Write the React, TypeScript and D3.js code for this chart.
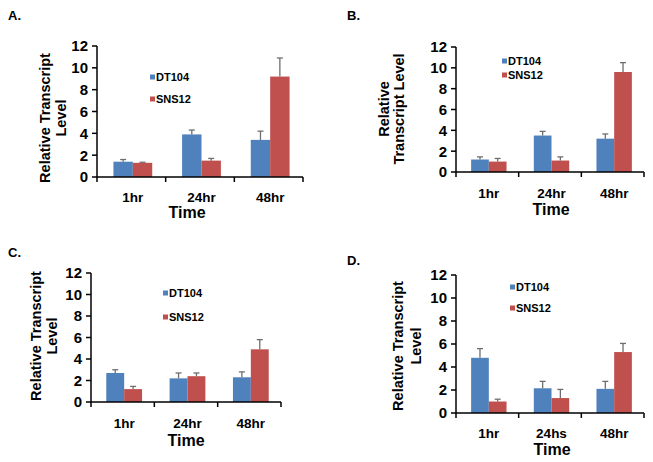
import React from "react";
import * as d3 from "d3";

const series = ["DT104", "SNS12"];
const yTicks = [0, 2, 4, 6, 8, 10, 12];
const catsABC = ["1hr", "24hr", "48hr"];
const catsD = ["1hr", "24hs", "48hr"];

const aDT = [1.4, 3.9, 3.4];
const aDTerr = [0.2, 0.4, 0.8];
const aSN = [1.3, 1.5, 9.2];
const aSNerr = [0.05, 0.2, 1.7];

const bDT = [1.2, 3.5, 3.2];
const bDTerr = [0.25, 0.4, 0.45];
const bSN = [1.0, 1.1, 9.6];
const bSNerr = [0.3, 0.35, 0.9];

const cDT = [2.7, 2.2, 2.3];
const cDTerr = [0.3, 0.5, 0.5];
const cSN = [1.2, 2.4, 4.9];
const cSNerr = [0.25, 0.3, 0.9];

const dDT = [4.8, 2.15, 2.1];
const dDTerr = [0.8, 0.6, 0.65];
const dSN = [1.0, 1.3, 5.3];
const dSNerr = [0.2, 0.75, 0.75];

const COLORS = ["#4F81BD", "#C0504D"];
const FONT = "'Liberation Sans', Arial, sans-serif";

type Layout = {
  letter: string;
  lx: number; ly: number;
  x0: number; x1: number; yTop: number; yBot: number;
  lab: string[]; labX: number[]; labY: number;
  legX: number; legY: number[];
  tickY: number; timeX: number; timeY: number;
};

const panels: { cats: string[]; vals: number[][]; errs: number[][]; L: Layout }[] = [
  {
    cats: catsABC, vals: [aDT, aSN], errs: [aDTerr, aSNerr],
    L: { letter: "A.", lx: 8, ly: 20, x0: 97, x1: 303, yTop: 46, yBot: 177,
      lab: ["Relative Transcript", "Level"], labX: [50, 66], labY: 118,
      legX: 150, legY: [77, 99], tickY: 202, timeX: 187, timeY: 218 },
  },
  {
    cats: catsABC, vals: [bDT, bSN], errs: [bDTerr, bSNerr],
    L: { letter: "B.", lx: 347, ly: 20, x0: 456, x1: 644, yTop: 47, yBot: 172,
      lab: ["Relative", "Transcript Level"], labX: [389, 404], labY: 109,
      legX: 502, legY: [61, 75], tickY: 198, timeX: 551, timeY: 215 },
  },
  {
    cats: catsABC, vals: [cDT, cSN], errs: [cDTerr, cSNerr],
    L: { letter: "C.", lx: 8, ly: 257, x0: 91, x1: 281, yTop: 273, yBot: 402,
      lab: ["Relative Transcript", "Level"], labX: [41, 57], labY: 336,
      legX: 163, legY: [293, 317], tickY: 428, timeX: 186, timeY: 446 },
  },
  {
    cats: catsD, vals: [dDT, dSN], errs: [dDTerr, dSNerr],
    L: { letter: "D.", lx: 347, ly: 265, x0: 456, x1: 644, yTop: 275, yBot: 413,
      lab: ["Relative Transcript", "Level"], labX: [403, 421], labY: 346,
      legX: 510, legY: [287, 308], tickY: 438, timeX: 552, timeY: 455 },
  },
];

function Panel({ cats, vals, errs, L }: { cats: string[]; vals: number[][]; errs: number[][]; L: Layout }) {
  const x = d3.scaleBand<string>().domain(cats).range([L.x0, L.x1]).padding(0);
  const y = d3.scaleLinear().domain([0, 12]).range([L.yBot, L.yTop]);
  const groupW = x.bandwidth() * 0.565;
  const inner = d3.scaleBand<string>().domain(series).range([0, groupW]).padding(0);
  const bounds = [...cats.map((c) => x(c)!), L.x1];
  return (
    <g fontFamily={FONT} fontWeight="bold">
      <text x={L.lx} y={L.ly} fontSize={13}>{L.letter}</text>
      {series.map((s, si) =>
        cats.map((c, ci) => {
          const gx = x(c)! + (x.bandwidth() - groupW) / 2 + 1.5;
          const bx = gx + inner(s)!;
          const v = vals[si][ci];
          const e = errs[si][ci];
          const cx = bx + inner.bandwidth() / 2;
          return (
            <g key={s + c}>
              <rect x={bx} y={y(v)} width={inner.bandwidth()} height={y(0) - y(v)} fill={COLORS[si]} />
              <line x1={cx} x2={cx} y1={y(v)} y2={y(v + e)} stroke="#6e6e6e" strokeWidth={1.3} />
              <line x1={cx - 3} x2={cx + 3} y1={y(v + e)} y2={y(v + e)} stroke="#6e6e6e" strokeWidth={1.3} />
            </g>
          );
        })
      )}
      <line x1={L.x0} x2={L.x0} y1={y(12)} y2={y(0)} stroke="#000" strokeWidth={1.5} />
      {yTicks.map((t) => (
        <g key={t}>
          <line x1={L.x0 - 5} x2={L.x0} y1={y(t)} y2={y(t)} stroke="#000" strokeWidth={1.5} />
          <text x={L.x0 - 9} y={y(t)} dy="0.36em" textAnchor="end" fontSize={15}>{t}</text>
        </g>
      ))}
      <line x1={L.x0} x2={L.x1} y1={y(0)} y2={y(0)} stroke="#000" strokeWidth={1.5} />
      {bounds.map((b, i) => (
        <line key={i} x1={b} x2={b} y1={y(0)} y2={y(0) + 5} stroke="#000" strokeWidth={1.5} />
      ))}
      {cats.map((c) => (
        <text key={c} x={x(c)! + x.bandwidth() / 2 + 1.5} y={L.tickY} textAnchor="middle" fontSize={13.5}>{c}</text>
      ))}
      <text x={L.timeX} y={L.timeY} textAnchor="middle" fontSize={16}>Time</text>
      {L.lab.map((t, i) => (
        <text key={t} transform={`translate(${L.labX[i]},${L.labY}) rotate(-90)`} textAnchor="middle" fontSize={14.5}>{t}</text>
      ))}
      {series.map((s, si) => (
        <g key={s}>
          <rect x={L.legX} y={L.legY[si] - 2.5} width={5} height={5} fill={COLORS[si]} />
          <text x={L.legX + 6} y={L.legY[si]} dy="0.36em" fontSize={11}>{s}</text>
        </g>
      ))}
    </g>
  );
}

export default function App() {
  return (
    <svg width={653} height={462} style={{ position: "absolute", left: 0, top: 0, background: "#fff" }}>
      <rect width={653} height={462} fill="#fff" />
      {panels.map((p, i) => (
        <Panel key={i} {...p} />
      ))}
    </svg>
  );
}
